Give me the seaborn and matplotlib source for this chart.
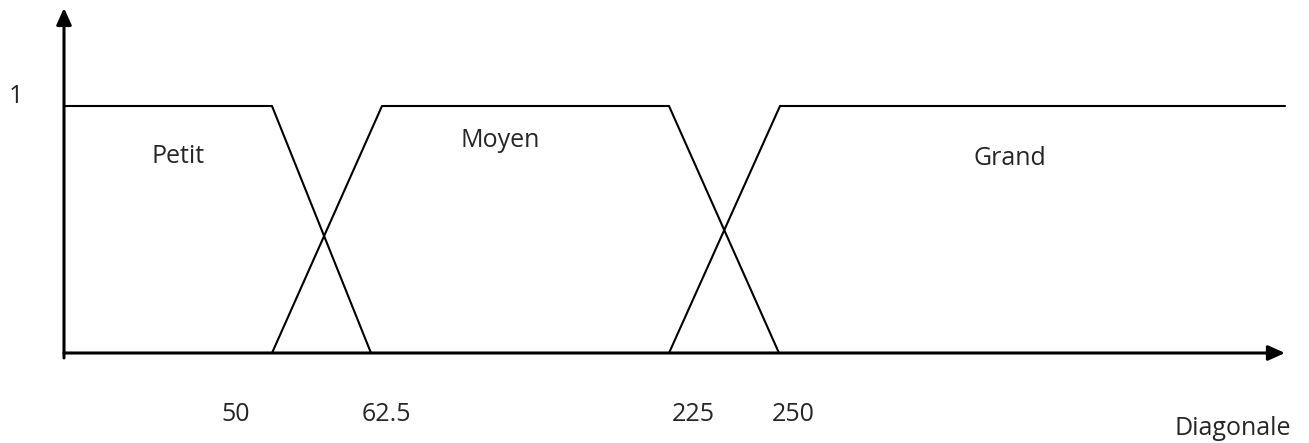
import matplotlib
matplotlib.use("Agg")
import matplotlib.pyplot as plt
import seaborn as sns
import pandas as pd

# schematic positions along the (not to scale) diagonal axis
petit_x = [0, 208, 307]
petit_y = [1, 1, 0]
moyen_x = [208, 318, 605, 715]
moyen_y = [0, 1, 1, 0]
grand_x = [605, 716, 1221]
grand_y = [0, 1, 1]

tick_labels = ["50", "62.5", "225", "250"]
tick_pos = [172, 322, 629, 729]

set_names = ["Petit", "Moyen", "Grand"]
name_pos = [(114, 0.794), (436, 0.862), (946, 0.789)]

sns.set_style("white")
plt.rcParams['font.family'] = ['Open Sans', 'DejaVu Sans']

rows = []
for name, xs, ys in zip(set_names, [petit_x, moyen_x, grand_x], [petit_y, moyen_y, grand_y]):
    for x, y in zip(xs, ys):
        rows.append({"set": name, "x": x, "mu": y})
df = pd.DataFrame(rows)

fig = plt.figure(figsize=(13.09, 4.43), dpi=100)
ax = fig.add_axes([0, 0, 1, 1])

sns.lineplot(data=df, x="x", y="mu", hue="set", sort=False, estimator=None,
             palette=["black"] * 3, linewidth=1.5, legend=False, ax=ax)

# axes with arrows
arrow = dict(arrowstyle="-|>,head_length=1.0,head_width=0.45", color="black", lw=2.2, shrinkA=0, shrinkB=0)
ax.annotate("", xy=(1221, 0), xytext=(0, 0), arrowprops=arrow)
ax.annotate("", xy=(0, 1.397), xytext=(0, -0.02), arrowprops=arrow)

fs = 18
for lab, p in zip(tick_labels, tick_pos):
    ax.text(p, -0.251, lab, ha="center", va="center", fontsize=fs)
for name, (px, py) in zip(set_names, name_pos):
    ax.text(px, py, name, ha="center", va="center", fontsize=fs)
ax.text(-48, 1.04, "1", ha="center", va="center", fontsize=fs)
ax.text(1169, -0.304, "Diagonale", ha="center", va="center", fontsize=fs)

ax.set_xlim(-64, 1245)
ax.set_ylim(-(443 - 353) / 247, 353 / 247)
ax.axis("off")

fig.savefig("out.png", dpi=100)
